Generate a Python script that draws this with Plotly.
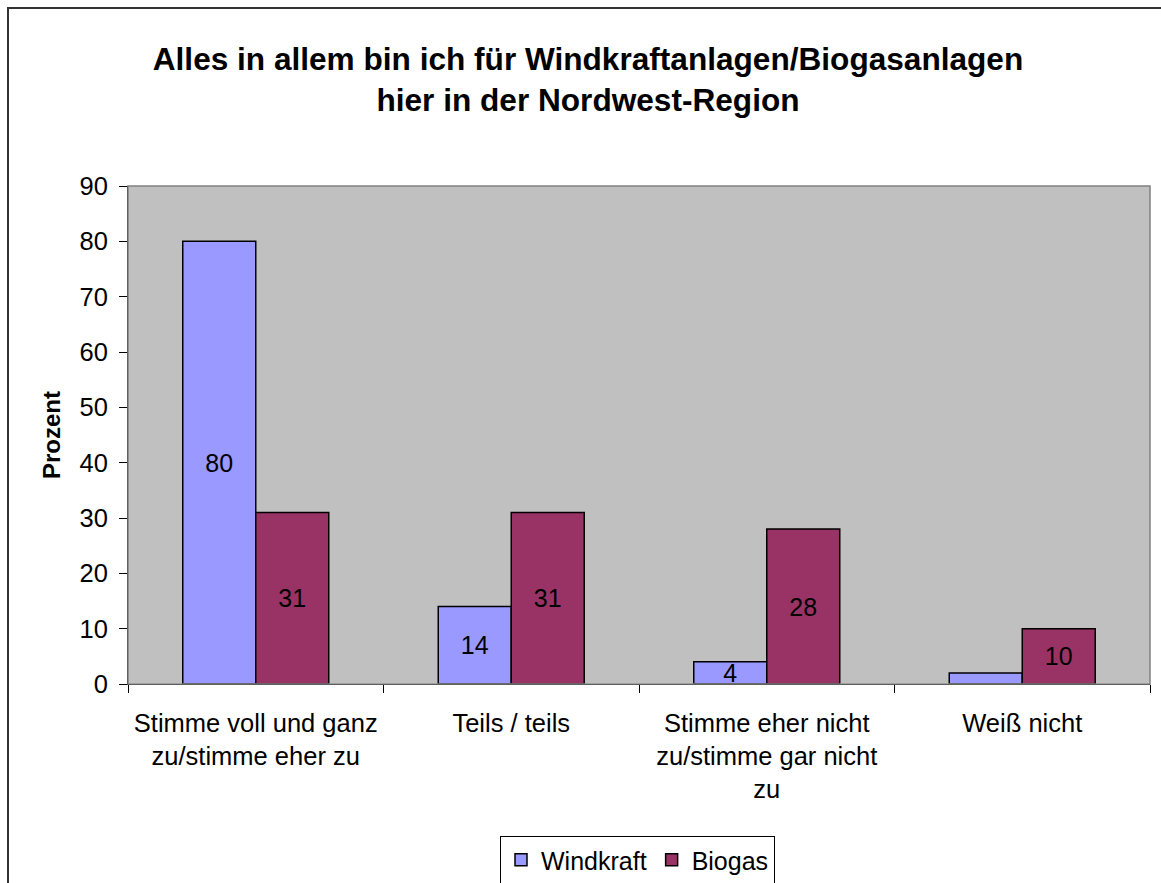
import plotly.graph_objects as go

categories = [
    "Stimme voll und ganz<br>zu/stimme eher zu",
    "Teils / teils",
    "Stimme eher nicht<br>zu/stimme gar nicht<br>zu",
    "Weiß nicht",
]
windkraft = [80, 14, 4, 2]
biogas = [31, 31, 28, 10]
windkraft_labels = ["80", "14", "4", ""]
biogas_labels = ["31", "31", "28", "10"]
y_ticks = [0, 10, 20, 30, 40, 50, 60, 70, 80, 90]

FONT = "Arial, 'Liberation Sans', sans-serif"
W, H = 1161, 883
L, R, T, B = 128, 11, 186, 199

fig = go.Figure()
fig.add_trace(go.Bar(
    name="Windkraft", x=categories, y=windkraft, text=windkraft_labels,
    textposition="inside", insidetextanchor="middle", textangle=0,
    marker=dict(color="#9999FF", line=dict(color="black", width=1.5)),
    textfont=dict(color="black", size=25, family=FONT),
))
fig.add_trace(go.Bar(
    name="Biogas", x=categories, y=biogas, text=biogas_labels,
    textposition="inside", insidetextanchor="middle", textangle=0,
    marker=dict(color="#993366", line=dict(color="black", width=1.5)),
    textfont=dict(color="black", size=25, family=FONT),
))

pw = W - L - R
ph = H - T - B

fig.update_layout(
    width=W, height=H,
    margin=dict(l=L, r=R, t=T, b=B, autoexpand=False),
    paper_bgcolor="white", plot_bgcolor="#C0C0C0",
    font=dict(family=FONT, size=25, color="black"),
    barmode="group", bargap=0.4286, bargroupgap=0,
    uniformtext=dict(minsize=25, mode="show"),
    title=dict(
        text="<b>Alles in allem bin ich für Windkraftanlagen/Biogasanlagen<br>hier in der Nordwest-Region</b>",
        font=dict(size=31.6, family=FONT, color="black"),
        x=588 / W, xanchor="center", xref="container",
        y=1 - 70 / H, yanchor="middle", yref="container",
    ),
    legend=dict(
        orientation="h", x=(637.5 - L) / pw, xanchor="center",
        y=(684 - 836) / ph, yanchor="top",
        bordercolor="black", borderwidth=1, bgcolor="white",
        font=dict(size=25, family=FONT), traceorder="normal",
        itemwidth=30,
    ),
    showlegend=True,
)
fig.update_xaxes(
    type="category", showgrid=False, tickson="boundaries",
    ticks="outside", ticklen=8, tickcolor="black", tickwidth=1,
    showline=True, linecolor="black", linewidth=1,
    tickfont=dict(size=25.5), ticklabelstandoff=16,
)
fig.update_yaxes(
    range=[0, 90], tickvals=y_ticks, showgrid=False,
    ticks="outside", ticklen=8, tickcolor="black", tickwidth=1,
    showline=True, linecolor="black", linewidth=1,
    tickfont=dict(size=25.5), ticklabelstandoff=6,
    title=dict(text="<b>Prozent</b>", font=dict(size=24), standoff=12),
)

# plot area border (gray)
fig.add_shape(type="rect", xref="paper", yref="paper", x0=0, x1=1, y0=0, y1=1,
              line=dict(color="#808080", width=1.5), fillcolor="rgba(0,0,0,0)", layer="above")
# outer chart frame (right and bottom edges fall outside the picture)
fig.add_shape(type="rect", xref="paper", yref="paper",
              x0=(8 - L) / pw, x1=(1175 - L) / pw,
              y0=(684 - 900) / ph, y1=(684 - 8) / ph,
              line=dict(color="#333333", width=2), fillcolor="rgba(0,0,0,0)")

fig.write_html("out.html", config={"displayModeBar": False},
               post_script="document.body.style.margin='0';document.body.style.overflow='hidden';")
